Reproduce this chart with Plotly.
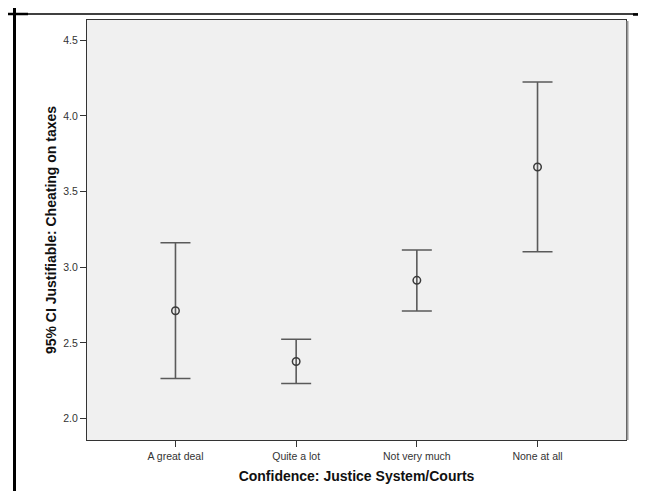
import plotly.graph_objects as go

categories = ["A great deal", "Quite a lot", "Not very much", "None at all"]
means = [2.713, 2.378, 2.914, 3.663]
upper = [3.162, 2.525, 3.114, 4.224]
lower = [2.265, 2.232, 2.711, 3.103]
y_ticks = [2.0, 2.5, 3.0, 3.5, 4.0, 4.5]
y_tick_labels = ["2.0", "2.5", "3.0", "3.5", "4.0", "4.5"]

W, H = 646, 491
L, R, T, B = 79, 28, 12, 59
PW, PH = W - L - R, H - T - B


def px_x(px):
    return (px - L) / PW


def px_y(py):
    return (H - B - py) / PH


fig = go.Figure()
fig.add_trace(go.Scatter(
    x=categories,
    y=means,
    mode="markers",
    marker=dict(symbol="circle-open", size=7.5, color="#3a3a3a", line=dict(width=1.5)),
    error_y=dict(
        type="data",
        symmetric=False,
        array=[u - m for u, m in zip(upper, means)],
        arrayminus=[m - l for m, l in zip(means, lower)],
        color="#5a5a5a",
        thickness=1.6,
        width=15,
    ),
    showlegend=False,
    hoverinfo="skip",
))

font_family = "Liberation Sans, Arial, sans-serif"

fig.update_layout(
    width=W,
    height=H,
    margin=dict(l=L, r=R, t=T, b=B, pad=0),
    paper_bgcolor="white",
    plot_bgcolor="#f0f0f0",
    font=dict(family=font_family, size=11, color="#333333"),
    xaxis=dict(
        type="category",
        range=[-0.733, 3.733],
        showgrid=False,
        zeroline=False,
        showline=True,
        linecolor="#333333",
        linewidth=1,
        mirror=True,
        ticks="outside",
        ticklen=6,
        tickcolor="#333333",
        tickfont=dict(size=10.5, color="#333333"),
        title=dict(text="<b>Confidence: Justice System/Courts</b>",
                   font=dict(size=14, color="#111111"), standoff=10),
        fixedrange=True,
    ),
    yaxis=dict(
        range=[1.859, 4.634],
        tickvals=y_ticks,
        ticktext=y_tick_labels,
        showgrid=False,
        zeroline=False,
        showline=True,
        linecolor="#333333",
        linewidth=1,
        mirror=True,
        ticks="outside",
        ticklen=6,
        tickcolor="#333333",
        tickfont=dict(size=10.5, color="#333333"),
        title=dict(text="<b>95% CI Justifiable: Cheating on taxes</b>",
                   font=dict(size=14, color="#111111"), standoff=3),
        fixedrange=True,
    ),
    shapes=[
        # plot shadow on right
        dict(type="line", xref="paper", yref="paper",
             x0=px_x(619.5), x1=px_x(619.5), y0=px_y(13), y1=px_y(432),
             line=dict(color="#9a9a9a", width=2)),
        # table border lines
        dict(type="line", xref="paper", yref="paper",
             x0=px_x(6.5), x1=px_x(6.5), y0=px_y(0), y1=px_y(491),
             line=dict(color="black", width=3)),
        dict(type="line", xref="paper", yref="paper",
             x0=px_x(637.5), x1=px_x(637.5), y0=px_y(0), y1=px_y(491),
             line=dict(color="black", width=3)),
        dict(type="line", xref="paper", yref="paper",
             x0=px_x(0), x1=px_x(646), y0=px_y(6), y1=px_y(6),
             line=dict(color="black", width=1.5)),
        dict(type="line", xref="paper", yref="paper",
             x0=px_x(0), x1=px_x(20), y0=px_y(6), y1=px_y(6),
             line=dict(color="black", width=2.5)),
        dict(type="line", xref="paper", yref="paper",
             x0=px_x(625), x1=px_x(646), y0=px_y(6.5), y1=px_y(6.5),
             line=dict(color="black", width=2.5)),
    ],
)

fig.write_html("out.html", config={"displayModeBar": False})
